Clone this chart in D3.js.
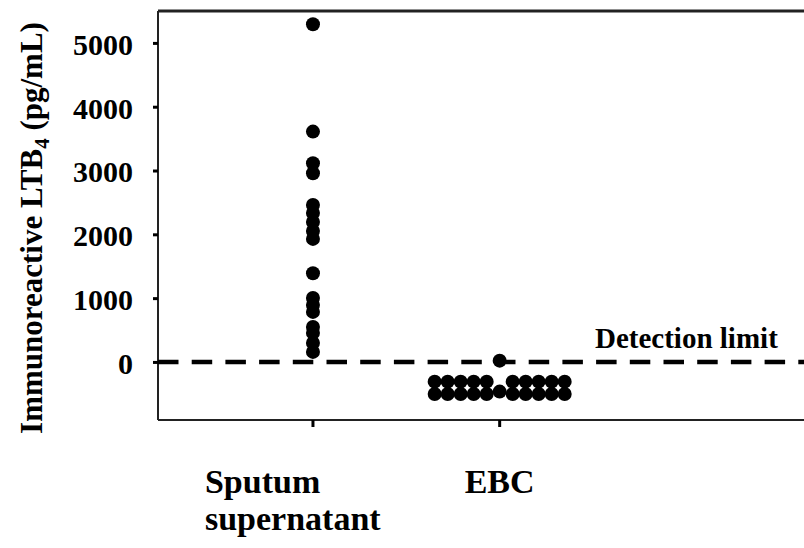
<!DOCTYPE html>
<html>
<head>
<meta charset="utf-8">
<script src="https://cdn.jsdelivr.net/npm/d3@7"></script>
<style>
  body { margin: 0; background: #fff; }
  svg { display: block; }
  text { font-family: "Liberation Serif", "Times New Roman", serif; font-weight: bold; fill: #000; }
</style>
</head>
<body>
<svg id="chart" width="804" height="548"></svg>
<script>
// group names and where they sit on the x axis
var categories = ["Sputum supernatant", "EBC"];
var categoryPos = [1, 2];

// immunoreactive LTB4, pg/mL
var sputumValues = [5293, 3610, 3114, 2958, 2461, 2335, 2194, 2053, 1928,
                    1390, 1003, 893, 784, 549, 455, 298, 157];
// EBC: one sample just above the limit, the rest plotted below it
var ebcValues = [20,
                 -309, -309, -309, -309, -309, -309, -309, -309, -309, -309,
                 -502, -502, -502, -502, -502, -502, -502, -502, -502, -502,
                 -465];

var yTicks = [0, 1000, 2000, 3000, 4000, 5000];
var detectionLimit = 0;

var svg = d3.select("#chart");

// plot area edges (window.top is read-only, so no plain "top")
var plotL = 158, plotR = 804, plotT = 11, plotB = 420;

var y = d3.scaleLinear().domain([-910, 5500]).range([plotB, plotT]);
var x = d3.scaleLinear().domain([0.17, 3.63]).range([plotL, plotR]);

var dotR = 7;
var slotW = 13;

// frame: left, bottom and top lines, right side runs off the picture
svg.append("line")
  .attr("x1", plotL).attr("x2", plotR + 2)
  .attr("y1", plotT).attr("y2", plotT)
  .attr("stroke", "#222").attr("stroke-width", 3);
svg.append("line")
  .attr("x1", plotL).attr("x2", plotR + 2)
  .attr("y1", plotB).attr("y2", plotB)
  .attr("stroke", "#222").attr("stroke-width", 2);

// y axis
var yAxis = d3.axisLeft(y)
  .tickValues(yTicks)
  .tickSize(5)
  .tickPadding(20)
  .tickFormat(d3.format("d"));

var gy = svg.append("g")
  .attr("transform", "translate(" + plotL + ",0)")
  .call(yAxis);
gy.select(".domain")
  .attr("d", "M0," + plotT + "V" + plotB)
  .attr("stroke", "#222").attr("stroke-width", 2);
gy.selectAll(".tick line").attr("stroke", "#000").attr("stroke-width", 3);
gy.selectAll(".tick text")
  .attr("dy", "0.38em")
  .style("font-size", "30px");

// x axis ticks only
var gx = svg.append("g")
  .attr("transform", "translate(0," + plotB + ")");
gx.selectAll("line")
  .data(categoryPos)
  .enter().append("line")
  .attr("x1", function(d){ return x(d); })
  .attr("x2", function(d){ return x(d); })
  .attr("y1", 0).attr("y2", 7)
  .attr("stroke", "#000").attr("stroke-width", 3);

// detection limit
svg.append("line")
  .attr("x1", plotL).attr("x2", plotR)
  .attr("y1", y(detectionLimit)).attr("y2", y(detectionLimit))
  .attr("stroke", "#000")
  .attr("stroke-width", 4.5)
  .attr("stroke-dasharray", "20.5,13.2");

svg.append("text")
  .attr("x", 595)
  .attr("y", 348)
  .style("font-size", "29px")
  .text("Detection limit");

// equal values go side by side; even groups leave the centre empty
function layout(values, pos){
  var counts = {}, seen = {};
  values.forEach(function(v){ counts[v] = (counts[v] || 0) + 1; });
  return values.map(function(v){
    var n = counts[v];
    var k = seen[v] || 0;
    seen[v] = k + 1;
    var slot;
    if(n % 2 == 1){
      slot = k - (n - 1) / 2;
    } else {
      var half = n / 2;
      slot = k < half ? k - half : k - half + 1;
    }
    return { value: v, cx: x(pos) + slot * slotW };
  });
}

var points = layout(sputumValues, categoryPos[0]).concat(layout(ebcValues, categoryPos[1]));

svg.append("g").selectAll("circle")
  .data(points)
  .enter().append("circle")
  .attr("cx", function(d){ return d.cx; })
  .attr("cy", function(d){ return y(d.value); })
  .attr("r", dotR)
  .attr("fill", "#000");

// category labels
var catLines = [["Sputum", "supernatant"], ["EBC"]];
var catText = svg.append("g").selectAll("text")
  .data(categories)
  .enter().append("text")
  .attr("x", function(d, i){ return i == 0 ? x(categoryPos[i]) - 108 : x(categoryPos[i]) - 35; })
  .attr("y", 493)
  .style("font-size", "34px");
catText.each(function(d, i){
  var t = d3.select(this);
  catLines[i].forEach(function(line, j){
    t.append("tspan")
      .attr("x", t.attr("x"))
      .attr("dy", j == 0 ? 0 : 37)
      .text(line);
  });
});

// y axis title with subscript
var yTitle = svg.append("text")
  .attr("transform", "translate(42," + 228 + ") rotate(-90)")
  .attr("text-anchor", "middle")
  .style("font-size", "31px");
yTitle.append("tspan").text("Immunoreactive LTB");
yTitle.append("tspan").attr("dy", 7).style("font-size", "21px").text("4");
yTitle.append("tspan").attr("dy", -7).text(" (pg/mL)");
</script>
</body>
</html>
